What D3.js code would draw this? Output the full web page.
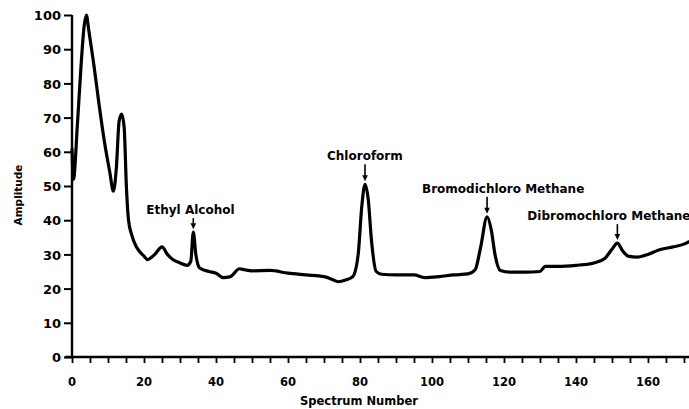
<!DOCTYPE html>
<html>
<head>
<meta charset="utf-8">
<script src="https://cdn.jsdelivr.net/npm/d3@7"></script>
<style>
  html, body { margin: 0; padding: 0; background: #fff; }
  svg { display: block; }
  text { font-family: "DejaVu Sans", sans-serif; font-weight: bold; fill: #000; }
</style>
</head>
<body>
<svg id="viz"></svg>
<script>
const WIDTH = 689;
const HEIGHT = 409;

const MARGIN = { top: 15, left: 72, bottom: 52 };

// spectrum trace
const spectrum = [0, 0.4, 1.5, 2.5, 3.4, 4, 4.6, 6, 7.5, 9, 10.5, 11.5, 12.3, 13.1, 13.8, 14.5, 15.1, 15.7, 16.5, 18, 20, 21, 23, 25, 26.5, 28, 30, 32, 33, 33.7, 34.4, 35.5, 38, 40, 42, 44, 46.5, 48, 50, 55, 60, 65, 70, 72, 74, 76, 78, 79.5, 80.5, 81.4, 82.3, 83.2, 84.5, 86, 90, 95, 98, 102, 106, 110, 112, 113.5, 115.3, 116.5, 117.5, 119, 122, 126, 130, 131.5, 135, 140, 145, 148, 150, 151.5, 153, 154.5, 157, 160, 163, 167, 170, 171.5];
const amplitude = [61, 52, 68, 85, 97, 100, 96, 86, 74, 63, 54, 48.5, 55, 69, 71, 67, 50, 40, 36, 32, 29.5, 28.5, 30, 32.2, 30, 28.5, 27.5, 26.8, 28, 36.5, 30, 26, 25, 24.5, 23.2, 23.5, 25.8, 25.5, 25.2, 25.3, 24.5, 24, 23.5, 22.8, 22, 22.5, 23.5, 30, 44, 50.5, 46, 34, 25, 24.2, 24, 24, 23.2, 23.5, 24, 24.3, 25.5, 32, 41, 37, 30, 25.3, 24.8, 24.8, 25, 26.5, 26.5, 26.8, 27.5, 28.8, 31.5, 33.3, 31, 29.5, 29.2, 30, 31.3, 32.2, 33, 33.8];

// labelled peaks
const peakNames = ["Ethyl Alcohol", "Chloroform", "Bromodichloro Methane", "Dibromochloro Methane"];
const peakSpectrum = [33.7, 81.4, 115.3, 151.5];
const peakAmplitude = [36.5, 50.5, 41, 33.3];

const yTicks = [0, 10, 20, 30, 40, 50, 60, 70, 80, 90, 100];
const xMinorTicks = d3.range(0, 175, 5);
const xLabelTicks = [0, 20, 40, 60, 80, 100, 120, 140, 160];

// label placement relative to each peak (px)
const labelDx = [-47, -38, -65, -90];
const labelDy = [-15, -21, -21, -20];

const svg = d3.select("#viz").attr("width", WIDTH).attr("height", HEIGHT);

const x = d3.scaleLinear().domain([0, 171.4]).range([MARGIN.left, WIDTH]);
const y = d3.scaleLinear().domain([0, 100]).range([HEIGHT - MARGIN.bottom, MARGIN.top]);

// x axis: minor ticks every 5, numbers every 20
const xAxis = svg.append("g")
  .attr("transform", `translate(0,${y(0)})`)
  .call(d3.axisBottom(x).tickValues(xMinorTicks).tickSize(6).tickFormat(""));
xAxis.select(".domain").attr("stroke-width", 2.4).attr("d", `M${MARGIN.left - 7},0H${WIDTH}`);
xAxis.selectAll(".tick line").attr("stroke-width", 1.8);

svg.append("g").selectAll("text")
  .data(xLabelTicks)
  .join("text")
  .attr("x", d => x(d))
  .attr("y", y(0) + 29)
  .attr("text-anchor", "middle")
  .attr("font-size", 11.5)
  .text(d => d);

// y axis
const yAxis = svg.append("g")
  .attr("transform", `translate(${x(0)},0)`)
  .call(d3.axisLeft(y).tickValues(yTicks).tickSize(8).tickPadding(3));
yAxis.select(".domain").attr("stroke-width", 2.4).attr("d", `M0,${y(100)}V${y(0)}`);
yAxis.selectAll(".tick line").attr("stroke-width", 2);
yAxis.selectAll(".tick text")
  .style("font-family", '"DejaVu Sans", sans-serif')
  .style("font-weight", "bold")
  .attr("font-size", 13)
  .attr("dy", "0.36em");

// axis titles
svg.append("text")
  .attr("transform", `translate(22,${(y(0) + y(100)) / 2 + 9}) rotate(-90)`)
  .attr("text-anchor", "middle")
  .attr("font-size", 10.5)
  .text("Amplitude");

svg.append("text")
  .attr("x", 359)
  .attr("y", 405)
  .attr("text-anchor", "middle")
  .attr("font-size", 11.5)
  .text("Spectrum Number");

// trace
const points = spectrum.map((s, i) => ({ s, a: amplitude[i] }));
const line = d3.line()
  .x(d => x(d.s))
  .y(d => y(d.a))
  .curve(d3.curveMonotoneX);

svg.append("path")
  .datum(points)
  .attr("fill", "none")
  .attr("stroke", "#000")
  .attr("stroke-width", 3.2)
  .attr("stroke-linejoin", "round")
  .attr("d", line);

// peak annotations with down arrows
const peaks = peakNames.map((name, i) => ({ name, s: peakSpectrum[i], a: peakAmplitude[i], dx: labelDx[i], dy: labelDy[i] }));

const ann = svg.append("g").selectAll("g")
  .data(peaks)
  .join("g")
  .attr("transform", d => `translate(${x(d.s)},${y(d.a) - 3})`);

ann.append("line")
  .attr("x1", 0).attr("x2", 0)
  .attr("y1", d => d.dy + 4).attr("y2", -4)
  .attr("stroke", "#000")
  .attr("stroke-width", 1.6);

ann.append("path")
  .attr("d", "M-2.8,-6L2.8,-6L0,0Z")
  .attr("fill", "#000");

ann.append("text")
  .attr("x", d => d.dx)
  .attr("y", d => d.dy)
  .attr("font-size", 12)
  .text(d => d.name);
</script>
</body>
</html>
